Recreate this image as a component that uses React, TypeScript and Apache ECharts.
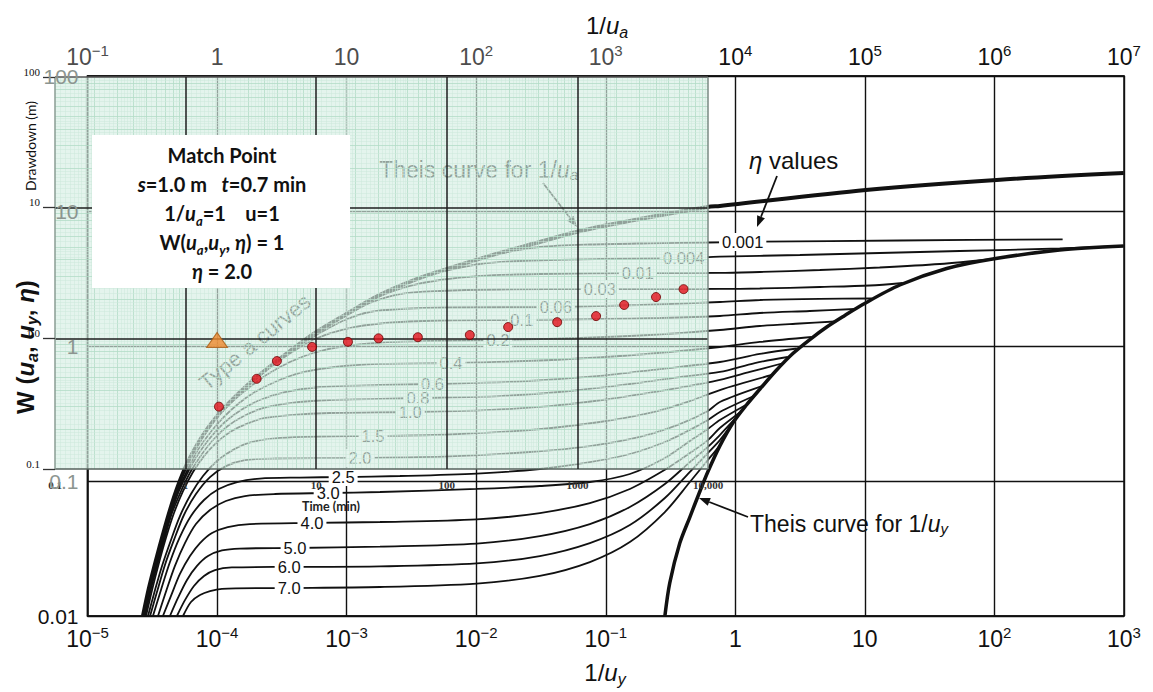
import React, { useEffect, useRef } from 'react';
import * as echarts from 'echarts';

// ---------------- data ----------------
const etaNames = ['0.001', '0.004', '0.01', '0.03', '0.06', '0.1', '0.2', '0.4', '0.6', '0.8', '1.0', '1.5', '2.0', '2.5', '3.0', '4.0', '5.0', '6.0', '7.0'];

// Neuman type A / type B curves, [1/u_y, W]
const eta0001 = [[0.0107, 4.41], [0.0152, 4.845], [0.031, 5.412], [0.0754, 5.648], [0.219, 5.764], [0.614, 5.843], [1.545, 5.925], [18.6, 6.047], [336, 6.172]];
const eta0004 = [[3.68e-3, 3.19], [5.25e-3, 3.533], [0.0107, 4.049], [0.0217, 4.263], [0.09, 4.41], [0.4, 4.486], [0.76, 4.587], [3.15, 4.722], [13.0, 4.886], [54, 5.055], [319, 5.275], [995, 5.524]];
const eta001 = [[1.27e-3, 1.978], [1.81e-3, 2.346], [3.08e-3, 2.783], [5.25e-3, 3.082], [0.0107, 3.3], [0.031, 3.415], [0.177, 3.473], [0.76, 3.475], [1.545, 3.533], [4.49, 3.656], [13.0, 3.815], [37.9, 4.049], [97, 4.41]];
const eta003 = [[6.22e-4, 1.292], [9.7e-4, 1.654], [1.51e-3, 2.083], [2.58e-3, 2.427], [5.25e-3, 2.555], [0.0152, 2.621], [0.09, 2.643], [0.2615, 2.643], [0.76, 2.645], [1.545, 2.666], [4.49, 2.735], [10.9, 2.807], [19.6, 2.929]];
const eta006 = [[3.34e-4, 0.873], [4.36e-4, 1.017], [6.22e-4, 1.248], [9.7e-4, 1.558], [1.51e-3, 1.786], [2.58e-3, 1.879], [6.27e-3, 1.928], [0.0412, 1.945], [0.1833, 2.012], [0.76, 2.118], [1.545, 2.191], [4.49, 2.237], [11.3, 2.248]];
const eta01 = [[1.79e-4, 0.523], [2.47e-4, 0.675], [3.65e-4, 0.88], [5.69e-4, 1.127], [9.7e-4, 1.336], [1.975e-3, 1.48], [5.25e-3, 1.545], [0.0225, 1.558], [0.09, 1.585], [0.2615, 1.612], [0.76, 1.668], [1.545, 1.756], [3.757, 1.816], [8.36, 1.879]];
const eta02 = [[7.0e-5, 0.185], [8.51e-5, 0.243], [1.05e-4, 0.3135], [1.35e-4, 0.398], [1.79e-4, 0.497], [2.47e-4, 0.62], [3.65e-4, 0.761], [5.69e-4, 0.895], [9.7e-4, 1.0], [1.81e-3, 1.061], [4.39e-3, 1.089], [0.0147, 1.108], [0.0631, 1.146], [0.219, 1.206], [0.76, 1.314], [1.545, 1.407], [3.146, 1.468], [5.86, 1.519]];
const eta04 = [[2.73e-5, 0.01], [3.04e-5, 0.0159], [3.44e-5, 0.0251], [3.89e-5, 0.0391], [4.41e-5, 0.0589], [5.08e-5, 0.0873], [5.96e-5, 0.1227], [7.12e-5, 0.17], [8.82e-5, 0.227], [1.11e-4, 0.293], [1.45e-4, 0.372], [1.96e-4, 0.456], [2.8e-4, 0.541], [4.36e-4, 0.631], [8.12e-4, 0.699], [1.81e-3, 0.736], [6.38e-3, 0.748], [0.031, 0.781], [0.1285, 0.843], [0.373, 0.918], [0.76, 0.983], [1.545, 1.071], [3.89, 1.166]];
const eta06 = [[2.75e-5, 0.01], [3.04e-5, 0.0156], [3.44e-5, 0.0251], [3.89e-5, 0.0385], [4.41e-5, 0.0579], [5.08e-5, 0.0843], [6.07e-5, 0.1207], [7.25e-5, 0.161], [8.97e-5, 0.212], [1.15e-4, 0.2735], [1.53e-4, 0.336], [2.14e-4, 0.398], [3.34e-4, 0.456], [6.22e-4, 0.497], [1.81e-3, 0.514], [4.63e-3, 0.523], [0.0217, 0.546], [0.09, 0.6], [0.2615, 0.675], [0.76, 0.761], [1.545, 0.873], [2.98, 0.958]];
const eta08 = [[2.78e-5, 0.01], [3.09e-5, 0.0159], [3.5e-5, 0.0251], [3.96e-5, 0.0385], [4.49e-5, 0.0579], [5.27e-5, 0.0843], [6.29e-5, 0.1186], [7.65e-5, 0.1585], [9.46e-5, 0.2047], [1.21e-4, 0.2555], [1.61e-4, 0.303], [2.26e-4, 0.347], [3.65e-4, 0.378], [7.43e-4, 0.398], [3.55e-3, 0.412], [0.0152, 0.426], [0.0529, 0.464], [0.1535, 0.523], [0.373, 0.589], [0.76, 0.642], [1.414, 0.748], [2.54, 0.829]];
const eta10 = [[2.83e-5, 0.01], [3.15e-5, 0.0156], [3.56e-5, 0.0247], [4.03e-5, 0.0378], [4.65e-5, 0.0579], [5.46e-5, 0.0843], [6.52e-5, 0.1166], [7.93e-5, 0.153], [9.81e-5, 0.191], [1.26e-4, 0.231], [1.67e-4, 0.264], [2.34e-4, 0.293], [3.65e-4, 0.308], [7.43e-4, 0.319], [3.08e-3, 0.3245], [0.0107, 0.333], [0.037, 0.359], [0.1076, 0.405], [0.2615, 0.464], [0.532, 0.523], [0.76, 0.56], [1.294, 0.642], [2.284, 0.742]];
const eta15 = [[2.93e-5, 0.01], [3.32e-5, 0.0156], [3.76e-5, 0.0235], [4.41e-5, 0.0366], [5.17e-5, 0.055], [6.29e-5, 0.0801], [7.79e-5, 0.1089], [9.98e-5, 0.1406], [1.33e-4, 0.17], [1.86e-4, 0.1945], [3.06e-4, 0.2083], [6.22e-4, 0.2136], [1.6e-3, 0.2154], [6.27e-3, 0.221], [0.026, 0.2387], [0.09, 0.2735], [0.219, 0.319], [0.446, 0.391], [0.76, 0.472], [1.913, 0.61]];
const eta20 = [[3.04e-5, 0.01], [3.44e-5, 0.0151], [3.96e-5, 0.0239], [4.65e-5, 0.0366], [5.55e-5, 0.056], [6.87e-5, 0.0801], [8.82e-5, 0.107], [1.17e-4, 0.129], [1.64e-4, 0.143], [2.8e-4, 0.1468], [1.27e-3, 0.148], [6.27e-3, 0.152], [0.026, 0.164], [0.0754, 0.1816], [0.183, 0.212], [0.373, 0.264], [0.614, 0.33], [0.76, 0.385], [1.63, 0.506]];
const eta25 = [[3.2e-5, 0.01], [3.69e-5, 0.0156], [4.33e-5, 0.0251], [5.17e-5, 0.0385], [6.29e-5, 0.055], [7.93e-5, 0.0723], [1.03e-4, 0.0873], [1.43e-4, 0.0983], [2.14e-4, 0.1043], [4.36e-4, 0.1061], [9.36e-4, 0.107], [2.58e-3, 0.1089], [0.0101, 0.1136], [0.031, 0.1227], [0.0754, 0.138], [0.1535, 0.1585], [0.286, 0.1945], [0.446, 0.239], [0.614, 0.283], [0.76, 0.3245], [1.39, 0.426]];
const eta30 = [[3.5e-5, 0.01], [4.03e-5, 0.0151], [4.73e-5, 0.0235], [5.65e-5, 0.0347], [6.87e-5, 0.048], [8.82e-5, 0.061], [1.17e-4, 0.0711], [1.64e-4, 0.0774], [2.8e-4, 0.0801], [7.17e-4, 0.0815], [1.81e-3, 0.0829], [0.0101, 0.0873], [0.031, 0.0918], [0.0754, 0.0983], [0.1535, 0.1127], [0.286, 0.148], [0.446, 0.198], [0.614, 0.243], [0.76, 0.283], [1.205, 0.366]];
const eta40 = [[3.82e-5, 0.01], [4.41e-5, 0.0141], [5.17e-5, 0.0205], [6.18e-5, 0.0278], [7.38e-5, 0.0347], [9.14e-5, 0.0412], [1.21e-4, 0.0456], [1.79e-4, 0.048], [5.4e-4, 0.0489], [1.81e-3, 0.0497], [0.0101, 0.0519], [0.031, 0.0579], [0.0754, 0.0687], [0.1535, 0.0873], [0.286, 0.121], [0.446, 0.161], [0.614, 0.201], [0.76, 0.247], [1.083, 0.322]];
const eta50 = [[4.33e-5, 0.01], [4.99e-5, 0.0136], [5.86e-5, 0.0185], [7.0e-5, 0.0235], [8.51e-5, 0.0278], [1.09e-4, 0.0306], [1.5e-4, 0.0316], [3.99e-4, 0.0319], [1.81e-3, 0.0327], [0.0101, 0.0344], [0.031, 0.0391], [0.0754, 0.048], [0.1535, 0.0642], [0.286, 0.095], [0.446, 0.138], [0.614, 0.179], [0.76, 0.219], [0.991, 0.288]];
const eta60 = [[4.9e-5, 0.01], [5.65e-5, 0.0131], [6.63e-5, 0.0167], [7.93e-5, 0.0198], [9.63e-5, 0.0219], [1.3e-4, 0.0229], [3.59e-4, 0.0231], [1.81e-3, 0.0233], [0.0101, 0.0245], [0.031, 0.0278], [0.0754, 0.0347], [0.1535, 0.0472], [0.286, 0.0748], [0.446, 0.117], [0.614, 0.161], [0.76, 0.201], [0.923, 0.256]];
const eta70 = [[5.46e-5, 0.01], [6.29e-5, 0.0127], [7.38e-5, 0.0143], [8.82e-5, 0.0153], [1.09e-4, 0.0159], [2.9e-4, 0.0161], [1.81e-3, 0.0164], [0.0101, 0.0174], [0.031, 0.0198], [0.0754, 0.0251], [0.1535, 0.0353], [0.286, 0.0589], [0.446, 0.0983], [0.614, 0.143], [0.76, 0.185], [0.875, 0.235]];

// where each eta value is written along its curve (1/u_y)
const etaLabelAt = [1.14, 0.40, 0.177, 0.090, 0.0412, 0.0225, 0.0147, 0.0064, 0.0046, 0.00355, 0.0031, 0.0016, 0.00127, 0.00094, 0.00072, 0.00054, 0.0004, 0.00036, 0.00036];

// Theis curve vs 1/u_a  [1/u_a, W]
const theisUa = [[0.268, 0.01], [0.298, 0.0161], [0.338, 0.026], [0.383, 0.0405], [0.433, 0.061], [0.499, 0.0918], [0.586, 0.134], [0.70, 0.185], [0.851, 0.247], [1.05, 0.319], [1.35, 0.412], [1.79, 0.532], [2.47, 0.687], [3.65, 0.918], [5.69, 1.25], [9.70, 1.70], [18.1, 2.39], [36.8, 3.19], [74.8, 3.98], [152, 4.89], [310, 5.89], [631, 7.11], [1830, 8.73], [6140, 10.7], [7600, 10.9], [101600, 14.3], [1.04e6, 17.0], [9.95e6, 19.1]];
// Theis curve vs 1/u_y  [1/u_y, W]
const theisUy = [[0.286, 0.01], [0.312, 0.0176], [0.373, 0.0347], [0.446, 0.0541], [0.523, 0.0801], [0.614, 0.117], [0.76, 0.182], [0.957, 0.269], [1.21, 0.3625], [1.55, 0.480], [2.05, 0.653], [2.78, 0.880], [3.76, 1.117], [5.08, 1.382], [7.0, 1.683], [9.63, 2.03], [18.6, 2.83], [42.8, 3.75], [97, 4.41], [319, 5.14], [995, 5.5]];

// field data on the overlay sheet
const timeMin = [1.8, 3.5, 5.0, 9.3, 17.5, 30, 60, 150, 295, 700, 1390, 2280, 4000, 6500];
const drawdownM = [0.30, 0.49, 0.67, 0.86, 0.94, 1.0, 1.02, 1.06, 1.22, 1.33, 1.48, 1.80, 2.07, 2.38];
const matchPointUa = [1, 1];

// tick labels
const timeTickLabels = ['0.1', '1', '10', '100', '1000', '10,000'];
const drawdownTickLabels = ['0.1', '1.0', '10', '100'];
const wTickLabels = ['0.01', '0.1', '1', '10', '100'];

// ---------------- styling / layout ----------------
const FONT = '"Liberation Sans", Arial, sans-serif';
const SERIF = '"Liberation Serif", "Times New Roman", serif';
const BOXFONT = 'Lato, "Open Sans", sans-serif';
const SHEET = { left: 55, top: 77, width: 653, height: 392 };

const etaCurves = [eta0001, eta0004, eta001, eta003, eta006, eta01, eta02, eta04, eta06, eta08, eta10, eta15, eta20, eta25, eta30, eta40, eta50, eta60, eta70];

function interpLog(curve: number[][], x: number): number {
  const lx = Math.log10(x);
  for (let i = 0; i < curve.length - 1; i++) {
    const a = curve[i], b = curve[i + 1];
    if (x >= a[0] && x <= b[0]) {
      const t = (lx - Math.log10(a[0])) / (Math.log10(b[0]) - Math.log10(a[0]));
      return Math.pow(10, Math.log10(a[1]) + t * (Math.log10(b[1]) - Math.log10(a[1])));
    }
  }
  return curve[curve.length - 1][1];
}

function powLabel(v: any, gray: boolean) {
  const e = Math.round(Math.log10(Number(v)));
  const b = gray ? 'g' : 'b';
  const p = gray ? 'gp' : 'p';
  if (e === 0) return `{${b}|1}`;
  if (e === 1) return `{${b}|10}`;
  return `{${b}|10}{${p}|${e < 0 ? '\u2212' + (-e) : e}}`;
}

const axisRich: any = {
  b: { fontFamily: FONT, fontSize: 23, lineHeight: 28, color: '#111' },
  p: { fontFamily: FONT, fontSize: 15, lineHeight: 15, verticalAlign: 'top', color: '#111' },
  g: { fontFamily: FONT, fontSize: 23, lineHeight: 28, color: '#4d4d4d' },
  gp: { fontFamily: FONT, fontSize: 15, lineHeight: 15, verticalAlign: 'top', color: '#4d4d4d' },
};

const titleRich: any = {
  n: { fontFamily: FONT, fontSize: 24, lineHeight: 30, fill: '#111' },
  i: { fontFamily: FONT, fontSize: 24, lineHeight: 30, fontStyle: 'italic', fill: '#111' },
  s: { fontFamily: FONT, fontSize: 16, lineHeight: 17, fontStyle: 'italic', verticalAlign: 'bottom', fill: '#111' },
};

const yTitleRich: any = {
  n: { fontFamily: FONT, fontSize: 24, lineHeight: 30, fontWeight: 'bold', fill: '#111' },
  i: { fontFamily: FONT, fontSize: 24, lineHeight: 30, fontWeight: 'bold', fontStyle: 'italic', fill: '#111' },
  s: { fontFamily: FONT, fontSize: 16, lineHeight: 17, fontWeight: 'bold', fontStyle: 'italic', verticalAlign: 'bottom', fill: '#111' },
};

const boxRich: any = {
  b: { fontFamily: BOXFONT, fontWeight: 'bold', fontSize: 20, lineHeight: 29, fill: '#111' },
  bi: { fontFamily: BOXFONT, fontWeight: 'bold', fontStyle: 'italic', fontSize: 20, lineHeight: 29, fill: '#111' },
  sub: { fontFamily: BOXFONT, fontWeight: 'bold', fontStyle: 'italic', fontSize: 13, lineHeight: 17, verticalAlign: 'bottom', fill: '#111' },
};

function arrow(x1: number, y1: number, x2: number, y2: number, color: string, width: number, head: number, z: number) {
  const ang = Math.atan2(y2 - y1, x2 - x1);
  const hx = x2 - head * Math.cos(ang);
  const hy = y2 - head * Math.sin(ang);
  const px = -Math.sin(ang) * head * 0.38;
  const py = Math.cos(ang) * head * 0.38;
  return [
    { type: 'line', shape: { x1, y1, x2: hx, y2: hy }, style: { stroke: color, lineWidth: width }, z, silent: true },
    { type: 'polygon', shape: { points: [[x2, y2], [hx + px, hy + py], [hx - px, hy - py]] }, style: { fill: color }, z, silent: true },
  ];
}

function buildOption() {
  // log-paper fine grid on the sheet
  const factors: number[] = [];
  for (let k = 11; k <= 19; k++) factors.push(k / 10);
  for (let k = 20; k <= 48; k += 2) factors.push(k / 10);
  for (let k = 50; k <= 95; k += 5) factors.push(k / 10);
  const minorLines: any[] = [];
  const gridStyle = (f: number) => (Number.isInteger(f)
    ? { color: '#b3dcc7', width: 0.8, type: 'solid' }
    : { color: '#cde9da', width: 0.5, type: 'solid' });
  [0.1, 1, 10, 100, 1000].forEach((d) => factors.forEach((f) => minorLines.push({ xAxis: d * f, lineStyle: gridStyle(f) })));
  [0.1, 1, 10].forEach((d) => factors.forEach((f) => minorLines.push({ yAxis: d * f, lineStyle: gridStyle(f) })));

  const curveSeries = etaCurves.map((d, i) => ({
    type: 'line',
    xAxisIndex: 0,
    yAxisIndex: 0,
    data: d,
    symbol: 'none',
    smooth: 0.3,
    silent: true,
    lineStyle: { color: '#111', width: 1.8 },
    z: 2,
    markPoint: {
      z: 5,
      silent: true,
      symbol: 'rect',
      symbolSize: 1,
      itemStyle: { color: 'rgba(0,0,0,0)' },
      label: {
        show: true,
        position: 'inside',
        formatter: () => etaNames[i],
        fontFamily: FONT,
        fontSize: 16.5,
        color: '#111',
        backgroundColor: '#fff',
        padding: [1, 3, 0, 3],
      },
      data: [{ coord: [etaLabelAt[i], interpLog(d, etaLabelAt[i])] }],
    },
  }));

  const graphic: any[] = [
    // axis titles
    { type: 'text', x: 607, y: 25, z: 6, silent: true,
      style: { text: '{n|1/}{i|u}{s|a}', rich: titleRich, align: 'center', verticalAlign: 'middle', fill: '#111' } },
    { type: 'text', x: 605, y: 672, z: 6, silent: true,
      style: { text: '{n|1/}{i|u}{s|y}', rich: titleRich, align: 'center', verticalAlign: 'middle', fill: '#111' } },
    { type: 'text', x: 25, y: 347, rotation: Math.PI / 2, z: 6, silent: true,
      style: { text: '{n|W (}{i|u}{s|a}{n|, }{i|u}{s|y}{n|, }{i|\u03b7}{n|)}', rich: yTitleRich, align: 'center', verticalAlign: 'middle', fill: '#111' } },
    // "Type a curves" and Theis 1/u_a note (under the sheet)
    { type: 'text', x: 255, y: 342, rotation: 0.69, z: 6, silent: true,
      style: { text: 'Type a curves', font: `22px ${FONT}`, fill: '#1a1a1a', align: 'center', verticalAlign: 'middle' } },
    { type: 'text', x: 578, y: 170, z: 6, silent: true,
      style: { text: 'Theis curve for 1/{i|u}{s|a}', font: `23px ${FONT}`, fill: '#111', align: 'right', verticalAlign: 'middle',
        rich: { i: { fontFamily: FONT, fontSize: 23, fontStyle: 'italic', fill: '#111' }, s: { fontFamily: FONT, fontSize: 15, fontStyle: 'italic', verticalAlign: 'bottom', lineHeight: 16, fill: '#111' } } } },
    ...arrow(543, 183, 577, 227, '#111', 1.8, 11, 6),
    // the translucent data sheet
    { type: 'rect', shape: { x: SHEET.left, y: SHEET.top, width: SHEET.width, height: SHEET.height }, style: { fill: 'rgba(214,238,227,0.66)' }, z: 10, silent: true },
    // match point box
    { type: 'rect', shape: { x: 92, y: 135, width: 258, height: 153 }, style: { fill: '#fff' }, z: 14, silent: true },
    { type: 'text', x: 222, y: 140, z: 15, silent: true,
      style: {
        text: [
          '{b|Match Point}',
          '{bi|s}{b|=1.0 m   }{bi|t}{b|=0.7 min}',
          '{b|1/}{bi|u}{sub|a}{b|=1    u=1}',
          '{b|W(}{bi|u}{sub|a}{b|,}{bi|u}{sub|y}{b|, }{bi|\u03b7}{b|) = 1}',
          '{bi|\u03b7}{b| = 2.0}',
        ].join('\n'),
        rich: boxRich, align: 'center', verticalAlign: 'top', fill: '#111',
      } },
    // eta values annotation
    { type: 'text', x: 749, y: 160, z: 6, silent: true,
      style: { text: '{i|\u03b7} values', font: `24px ${FONT}`, fill: '#111', align: 'left', verticalAlign: 'middle',
        rich: { i: { fontFamily: FONT, fontSize: 24, fontStyle: 'italic', fill: '#111' } } } },
    ...arrow(777, 176, 757, 227, '#111', 1.8, 11, 6),
    // Theis 1/u_y annotation
    { type: 'text', x: 750, y: 524, z: 6, silent: true,
      style: { text: 'Theis curve for 1/{i|u}{s|y}', font: `23px ${FONT}`, fill: '#111', align: 'left', verticalAlign: 'middle',
        rich: { i: { fontFamily: FONT, fontSize: 23, fontStyle: 'italic', fill: '#111' }, s: { fontFamily: FONT, fontSize: 15, fontStyle: 'italic', verticalAlign: 'bottom', lineHeight: 16, fill: '#111' } } } },
    ...arrow(748, 517, 699, 498, '#111', 1.8, 11, 6),
    // sheet axis titles
    { type: 'text', x: 331, y: 506, z: 15, silent: true,
      style: { text: 'Time (min)', font: `bold 12.5px ${BOXFONT}`, fill: '#222', align: 'center', verticalAlign: 'middle' } },
    { type: 'text', x: 30, y: 146, rotation: Math.PI / 2, z: 15, silent: true,
      style: { text: 'Drawdown (m)', font: `14px ${BOXFONT}`, fill: '#111', align: 'center', verticalAlign: 'middle' } },
  ];

  return {
    animation: false,
    backgroundColor: '#fff',
    grid: [
      { left: 87.5, top: 76, right: 29, bottom: 76, show: true, borderColor: '#111', borderWidth: 1.5, backgroundColor: 'transparent' },
      { left: SHEET.left, top: SHEET.top, width: SHEET.width, height: SHEET.height, show: false },
    ],
    xAxis: [
      {
        type: 'log', gridIndex: 0, min: 1e-5, max: 1e3, splitNumber: 8, position: 'bottom',
        axisLine: { show: true, lineStyle: { color: '#111', width: 1.5 } },
        axisTick: { show: false },
        splitLine: { show: true, lineStyle: { color: '#111', width: 1.4 } },
        axisLabel: { formatter: (v: any) => powLabel(v, false), rich: axisRich, margin: 9, showMinLabel: true, showMaxLabel: true },
      },
      {
        type: 'log', gridIndex: 0, min: 0.1, max: 1e7, splitNumber: 8, position: 'top',
        axisLine: { show: true, lineStyle: { color: '#111', width: 1.5 } },
        axisTick: { show: false },
        splitLine: { show: false },
        axisLabel: { formatter: (v: any) => powLabel(v, Number(v) < 5000), rich: axisRich, margin: 5, showMinLabel: true, showMaxLabel: true },
      },
      {
        type: 'log', gridIndex: 1, min: 0.1, max: 1e4, splitNumber: 5, position: 'bottom', z: 12,
        axisLine: { show: false },
        axisTick: { show: false },
        splitLine: { show: true, lineStyle: { color: ['#8a9c93', '#1e1e1e', '#1e1e1e', '#1e1e1e', '#1e1e1e', '#7b8a83'], width: 1.5 } },
        axisLabel: {
          formatter: (v: any) => timeTickLabels[Math.round(Math.log10(Number(v))) + 1],
          fontFamily: SERIF, fontSize: 11, fontWeight: 'bold', color: '#333', margin: 10, showMinLabel: true, showMaxLabel: true,
        },
      },
    ],
    yAxis: [
      {
        type: 'log', gridIndex: 0, min: 0.01, max: 100, splitNumber: 4, position: 'left',
        axisLine: { show: true, lineStyle: { color: '#111', width: 1.5 } },
        axisTick: { show: false },
        splitLine: { show: true, lineStyle: { color: '#111', width: 1.4 } },
        axisLabel: { show: false },
      },
      {
        type: 'log', gridIndex: 0, min: 0.01, max: 100, splitNumber: 4, z: 13, position: 'left', offset: 0,
        axisLine: { show: false }, axisTick: { show: false }, splitLine: { show: false },
        axisLabel: {
          formatter: (v: any) => wTickLabels[Math.round(Math.log10(Number(v))) + 2],
          color: (v: any) => (Number(v) < 0.05 ? '#111' : '#8c9590'),
          fontFamily: FONT, fontSize: 21, margin: 9, showMinLabel: true, showMaxLabel: true,
        },
      },
      {
        type: 'log', gridIndex: 1, min: 0.1, max: 100, splitNumber: 3, z: 12, position: 'left',
        axisLine: { show: false },
        axisTick: { show: true, length: 12, lineStyle: { color: '#333', width: 1.3 } },
        splitLine: { show: true, lineStyle: { color: ['#56625c', '#1e1e1e', '#1e1e1e', '#555'], width: 1.5 } },
        axisLabel: {
          formatter: (v: any) => drawdownTickLabels[Math.round(Math.log10(Number(v))) + 1],
          fontFamily: SERIF, fontSize: 11, color: '#111', margin: 15, verticalAlign: 'bottom', showMinLabel: true, showMaxLabel: true,
        },
      },
    ],
    series: [
      ...curveSeries,
      {
        type: 'line', xAxisIndex: 1, yAxisIndex: 0, data: theisUa, symbol: 'none', smooth: 0.3, silent: true,
        lineStyle: { color: '#111', width: 4 }, z: 3,
      },
      {
        type: 'line', xAxisIndex: 0, yAxisIndex: 0, data: theisUy, symbol: 'none', smooth: 0.3, silent: true,
        lineStyle: { color: '#111', width: 3.5 }, z: 3,
      },
      {
        type: 'line', xAxisIndex: 2, yAxisIndex: 2, data: [], symbol: 'none', silent: true,
        markLine: { z: 11, silent: true, symbol: ['none', 'none'], label: { show: false }, animation: false, data: minorLines },
      },
      {
        type: 'scatter', xAxisIndex: 2, yAxisIndex: 2, z: 13, silent: true,
        data: timeMin.map((t, i) => [t, drawdownM[i]]),
        symbol: 'circle', symbolSize: 9,
        itemStyle: { color: '#e3121b', borderColor: '#6a0000', borderWidth: 1 },
      },
      {
        type: 'scatter', xAxisIndex: 1, yAxisIndex: 0, z: 13, silent: true,
        data: [matchPointUa], symbol: 'triangle', symbolSize: [21, 15], symbolOffset: [0, -6],
        itemStyle: { color: '#f0892e', borderColor: '#a85a14', borderWidth: 1 },
      },
    ],
    graphic,
  };
}

export default function App() {
  const ref = useRef<HTMLDivElement>(null);
  useEffect(() => {
    const chart = echarts.init(ref.current as HTMLDivElement, null, { renderer: 'svg' });
    chart.setOption(buildOption() as any);
    return () => chart.dispose();
  }, []);
  return <div ref={ref} style={{ position: 'fixed', left: 0, top: 0, width: 1153, height: 692, background: '#fff' }} />;
}
